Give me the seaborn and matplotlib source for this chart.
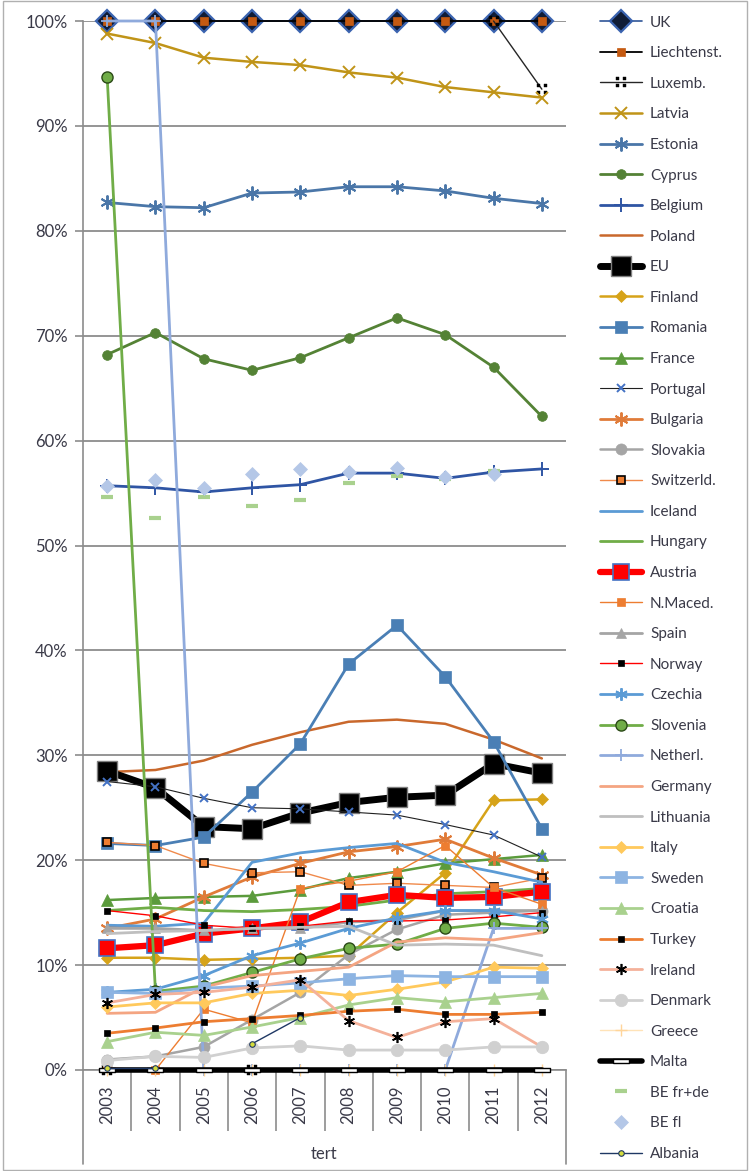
import numpy as np
import matplotlib
matplotlib.use("Agg")
import matplotlib.pyplot as plt
from matplotlib.path import Path
from matplotlib.patches import Rectangle
import seaborn as sns

nan = np.nan

# ---- data: share (%) per year, "tert" level ----
years = ["2003", "2004", "2005", "2006", "2007", "2008", "2009", "2010", "2011", "2012"]

uk = [100, 100, 100, 100, 100, 100, 100, 100, 100, 100]
liechtenstein = [100, 100, 100, 100, 100, 100, 100, 100, 100, 100]
luxembourg = [0, nan, nan, 0, nan, nan, nan, nan, 100, 93.5]
latvia = [98.8, 97.9, 96.5, 96.1, 95.8, 95.1, 94.6, 93.7, 93.2, 92.7]
estonia = [82.7, 82.3, 82.2, 83.6, 83.7, 84.2, 84.2, 83.8, 83.1, 82.6]
cyprus = [68.2, 70.3, 67.8, 66.7, 67.9, 69.8, 71.7, 70.1, 67.0, 62.3]
belgium = [55.7, 55.5, 55.1, 55.5, 55.8, 56.9, 56.9, 56.4, 57.0, 57.3]
poland = [28.4, 28.6, 29.5, 31.0, 32.2, 33.2, 33.4, 33.0, 31.5, 29.7]
eu = [28.5, 26.9, 23.2, 23.0, 24.5, 25.5, 26.0, 26.2, 29.2, 28.3]
finland = [10.7, 10.7, 10.5, 10.6, 10.7, 10.9, 15.0, 18.8, 25.7, 25.8]
romania = [21.6, 21.4, 22.2, 26.5, 31.1, 38.7, 42.4, 37.5, 31.3, 23.0]
france = [16.2, 16.4, 16.5, 16.6, 17.2, 18.3, 18.9, 19.7, 20.1, 20.5]
portugal = [27.5, 27.0, 25.9, 25.0, 24.9, 24.6, 24.3, 23.4, 22.4, 20.3]
bulgaria = [13.5, 14.4, 16.5, 18.4, 19.7, 20.8, 21.3, 22.0, 20.2, 18.6]
slovakia = [1.0, 1.3, 2.2, 4.8, 7.4, 11.0, 13.4, 14.8, 15.0, 15.2]
switzerland = [21.7, 21.4, 19.7, 18.8, 18.9, 17.6, 17.8, 17.6, 17.4, 18.3]
iceland = [13.8, 13.7, 14.0, 19.8, 20.7, 21.2, 21.6, 19.8, 18.9, 17.9]
hungary = [15.2, 15.5, 15.2, 15.1, 15.3, 15.6, 16.2, 16.8, 17.0, 17.3]
austria = [11.6, 11.9, 13.0, 13.5, 14.1, 16.0, 16.7, 16.4, 16.5, 17.0]
n_macedonia = [0.2, 0.0, 5.8, 4.5, 17.3, 18.0, 18.9, 21.4, 17.4, 15.8]
spain = [13.5, 13.5, 13.3, 13.5, 13.5, 14.1, 14.3, 15.2, 15.2, 15.2]
norway = [15.2, 14.7, 13.8, 13.5, 13.7, 14.2, 14.2, 14.3, 14.6, 15.0]
czechia = [7.4, 7.7, 9.0, 10.9, 12.1, 13.5, 14.5, 15.2, 15.2, 14.4]
slovenia = [94.7, 7.5, 8.0, 9.3, 10.6, 11.6, 12.0, 13.5, 14.0, 13.6]
netherlands = [100, 100, 0, 0, 0, 0, 0, 0, 13.5, 13.5]
germany = [5.4, 5.5, 7.9, 9.0, 9.4, 9.8, 12.2, 12.6, 12.4, 13.1]
lithuania = [13.0, 13.2, 13.3, 13.5, 13.6, 13.7, 11.9, 12.0, 11.9, 10.9]
italy = [6.0, 6.4, 6.4, 7.3, 7.6, 7.1, 7.7, 8.4, 9.8, 9.7]
sweden = [7.4, 7.3, 7.8, 8.0, 8.3, 8.7, 9.0, 8.9, 8.9, 8.9]
croatia = [2.7, 3.6, 3.3, 4.1, 5.0, 6.2, 6.9, 6.5, 6.9, 7.3]
turkey = [3.5, 4.0, 4.6, 4.9, 5.2, 5.6, 5.8, 5.3, 5.3, 5.5]
ireland = [6.4, 7.2, 7.4, 7.9, 8.6, 4.7, 3.1, 4.6, 4.9, 2.2]
denmark = [0.9, 1.3, 1.2, 2.1, 2.3, 1.9, 1.9, 1.9, 2.2, 2.2]
greece = [0, 0, 0, 0, 0, 0, 0, 0, 0, 0]
malta = [0, 0, 0, 0, 0, 0, 0, 0, 0, 0]
be_fr_de = [54.6, 52.6, 54.6, 53.8, 54.3, 56.0, 56.6, 56.3, 57.1, nan]
be_fl = [55.7, 56.2, 55.5, 56.8, 57.3, 57.0, 57.4, 56.5, 56.8, nan]
albania = [0.2, 0.2, nan, 2.5, 5.0, nan, nan, nan, nan, nan]

y_ticks = [0, 10, 20, 30, 40, 50, 60, 70, 80, 90, 100]
y_tick_labels = [f"{v}%" for v in y_ticks]
x_axis_title = "tert"

# ---- custom marker shapes ----
def _square(cx, cy, h):
    return Path([(cx - h, cy - h), (cx + h, cy - h), (cx + h, cy + h),
                 (cx - h, cy + h), (cx - h, cy - h)],
                [Path.MOVETO, Path.LINETO, Path.LINETO, Path.LINETO, Path.CLOSEPOLY])

DOTS = Path.make_compound_path(*[_square(cx, cy, 0.3) for cx, cy in
                                 [(-0.7, -0.7), (0.7, -0.7), (-0.7, 0.7), (0.7, 0.7)]])
DASH = [(-1, -0.25), (1, -0.25), (1, 0.25), (-1, 0.25), (-1, -0.25)]
STAR = (6, 2, 0)

# series name, values, style
series = [
    ("UK", uk, dict(color="#2f5597", linewidth=1.2, marker="D", markersize=11,
                    markerfacecolor="#101c36", markeredgecolor="#3b64b0", markeredgewidth=1.6)),
    ("Liechtenst.", liechtenstein, dict(color="black", linewidth=1.3, marker="s", markersize=6,
                                        markerfacecolor="#c55a11", markeredgecolor="#c55a11", markeredgewidth=0.5)),
    ("Luxemb.", luxembourg, dict(color="#262626", linewidth=1.0, marker=DOTS, markersize=7,
                                 markerfacecolor="black", markeredgecolor="black", markeredgewidth=0.3)),
    ("Latvia", latvia, dict(color="#c09418", linewidth=1.8, marker="x", markersize=9,
                            markerfacecolor="#c09418", markeredgecolor="#c09418", markeredgewidth=1.4)),
    ("Estonia", estonia, dict(color="#4a76a8", linewidth=2.0, marker=STAR, markersize=10,
                              markerfacecolor="#4a76a8", markeredgecolor="#4a76a8", markeredgewidth=1.4)),
    ("Cyprus", cyprus, dict(color="#548235", linewidth=2.0, marker="o", markersize=7,
                            markerfacecolor="#548235", markeredgecolor="#548235", markeredgewidth=0.5)),
    ("Belgium", belgium, dict(color="#2f55a4", linewidth=2.0, marker="+", markersize=10,
                              markerfacecolor="#2f55a4", markeredgecolor="#2f55a4", markeredgewidth=1.4)),
    ("Poland", poland, dict(color="#c9682c", linewidth=1.8)),
    ("EU", eu, dict(color="black", linewidth=5.0, marker="s", markersize=15,
                    markerfacecolor="black", markeredgecolor="#7f7f7f", markeredgewidth=1.0)),
    ("Finland", finland, dict(color="#d6a319", linewidth=1.8, marker="D", markersize=6,
                              markerfacecolor="#d6a319", markeredgecolor="#d6a319", markeredgewidth=0.5)),
    ("Romania", romania, dict(color="#4a7fb5", linewidth=2.0, marker="s", markersize=8,
                              markerfacecolor="#4a7fb5", markeredgecolor="#4a7fb5", markeredgewidth=0.5)),
    ("France", france, dict(color="#5b9b3c", linewidth=1.8, marker="^", markersize=8,
                            markerfacecolor="#5b9b3c", markeredgecolor="#5b9b3c", markeredgewidth=0.5)),
    ("Portugal", portugal, dict(color="#202020", linewidth=0.8, marker="x", markersize=6,
                                markerfacecolor="#4472c4", markeredgecolor="#4472c4", markeredgewidth=1.4)),
    ("Bulgaria", bulgaria, dict(color="#e07b39", linewidth=2.0, marker=STAR, markersize=10,
                                markerfacecolor="#e07b39", markeredgecolor="#e07b39", markeredgewidth=1.4)),
    ("Slovakia", slovakia, dict(color="#a5a5a5", linewidth=1.8, marker="o", markersize=8,
                                markerfacecolor="#a5a5a5", markeredgecolor="#a5a5a5", markeredgewidth=0.5)),
    ("Switzerld.", switzerland, dict(color="#f08a4b", linewidth=1.0, marker="s", markersize=6,
                                     markerfacecolor="#ed7d31", markeredgecolor="black", markeredgewidth=1.2)),
    ("Iceland", iceland, dict(color="#5b9bd5", linewidth=2.0)),
    ("Hungary", hungary, dict(color="#70ad47", linewidth=2.0)),
    ("Austria", austria, dict(color="#ff0000", linewidth=4.5, marker="s", markersize=12,
                              markerfacecolor="#ff0000", markeredgecolor="#4472c4", markeredgewidth=1.2)),
    ("N.Maced.", n_macedonia, dict(color="#ed7d31", linewidth=1.0, marker="s", markersize=6,
                                   markerfacecolor="#ed7d31", markeredgecolor="#ed7d31", markeredgewidth=0.5)),
    ("Spain", spain, dict(color="#a5a5a5", linewidth=2.0, marker="^", markersize=7,
                          markerfacecolor="#a5a5a5", markeredgecolor="#a5a5a5", markeredgewidth=0.5)),
    ("Norway", norway, dict(color="#ff0000", linewidth=1.0, marker="s", markersize=4,
                            markerfacecolor="black", markeredgecolor="black", markeredgewidth=0.5)),
    ("Czechia", czechia, dict(color="#5b9bd5", linewidth=2.0, marker=STAR, markersize=9,
                              markerfacecolor="#5b9bd5", markeredgecolor="#5b9bd5", markeredgewidth=1.4)),
    ("Slovenia", slovenia, dict(color="#70ad47", linewidth=2.0, marker="o", markersize=8,
                                markerfacecolor="#70ad47", markeredgecolor="#2b4a17", markeredgewidth=1.0)),
    ("Netherl.", netherlands, dict(color="#8faadc", linewidth=2.0, marker="+", markersize=9,
                                   markerfacecolor="#8faadc", markeredgecolor="#8faadc", markeredgewidth=1.3)),
    ("Germany", germany, dict(color="#f4a582", linewidth=2.0)),
    ("Lithuania", lithuania, dict(color="#bfbfbf", linewidth=2.0)),
    ("Italy", italy, dict(color="#ffc95c", linewidth=2.0, marker="D", markersize=6,
                          markerfacecolor="#ffc95c", markeredgecolor="#ffc95c", markeredgewidth=0.5)),
    ("Sweden", sweden, dict(color="#8db4e2", linewidth=2.0, marker="s", markersize=9,
                            markerfacecolor="#8db4e2", markeredgecolor="#8db4e2", markeredgewidth=0.5)),
    ("Croatia", croatia, dict(color="#a9d18e", linewidth=2.0, marker="^", markersize=8,
                              markerfacecolor="#a9d18e", markeredgecolor="#a9d18e", markeredgewidth=0.5)),
    ("Turkey", turkey, dict(color="#ed7d31", linewidth=2.0, marker="s", markersize=4,
                            markerfacecolor="black", markeredgecolor="black", markeredgewidth=0.5)),
    ("Ireland", ireland, dict(color="#f4b19a", linewidth=2.0, marker=STAR, markersize=8,
                              markerfacecolor="black", markeredgecolor="black", markeredgewidth=1.2)),
    ("Denmark", denmark, dict(color="#d0d0d0", linewidth=2.0, marker="o", markersize=9,
                              markerfacecolor="#d0d0d0", markeredgecolor="#d0d0d0", markeredgewidth=0.5)),
    ("Greece", greece, dict(color="#ffe3b8", linewidth=1.0, marker="+", markersize=9,
                            markerfacecolor="#ffd59a", markeredgecolor="#ffd59a", markeredgewidth=1.0)),
    ("Malta", malta, dict(color="black", linewidth=4.0, marker=DASH, markersize=11,
                          markerfacecolor="white", markeredgecolor="black", markeredgewidth=1.0)),
    ("BE fr+de", be_fr_de, dict(color="#a9d18e", linestyle="none", marker="_", markersize=9,
                                markerfacecolor="#a9d18e", markeredgecolor="#a9d18e", markeredgewidth=3.0)),
    ("BE fl", be_fl, dict(color="#b4c7e7", linestyle="none", marker="D", markersize=7,
                          markerfacecolor="#b4c7e7", markeredgecolor="#b4c7e7", markeredgewidth=0.5)),
    ("Albania", albania, dict(color="#1f3864", linewidth=1.0, marker="o", markersize=4,
                              markerfacecolor="#d4dc3c", markeredgecolor="#1f3864", markeredgewidth=0.8)),
]

sns.set_theme(style="white")
plt.rcParams["font.family"] = ["Lato", "DejaVu Sans"]

fig = plt.figure(figsize=(7.49, 11.71), dpi=100)
ax = fig.add_axes([83 / 749, 1 - 1070 / 1171, (566 - 83) / 749, (1070 - 21) / 1171])
ax.set_facecolor("white")

GRID = "#8c8c8c"
TEXT = "#3a3a48"


def draw_series(values, z, style):
    """Draw one series with seaborn, breaking the line where values are missing."""
    y = np.asarray(values, dtype=float)
    x = np.arange(len(y))
    ok = ~np.isnan(y)
    segments, start = [], None
    for i in range(len(y)):
        if ok[i] and start is None:
            start = i
        if (not ok[i] or i == len(y) - 1) and start is not None:
            end = i + 1 if ok[i] else i
            segments.append((start, end))
            start = None
    handle = None
    for a, b in segments:
        sns.lineplot(x=x[a:b], y=y[a:b], ax=ax, errorbar=None, sort=False,
                     legend=False, zorder=z, clip_on=False, **style)
        if handle is None:
            handle = ax.lines[-1]
    return handle


handles, labels = [], []
for k, (name, vals, style) in enumerate(series):
    h = draw_series(vals, 3 + k * 0.01, style)
    handles.append(h)
    labels.append(name)

# axes, grid and ticks
ax.set_xlim(-0.5, len(years) - 0.5)
ax.set_ylim(0, 100)
ax.set_yticks(y_ticks)
ax.set_yticklabels(y_tick_labels)
ax.yaxis.grid(True, color=GRID, linewidth=1.3, zorder=0)
ax.xaxis.grid(False)
ax.set_axisbelow(True)
for side in ("top", "right"):
    ax.spines[side].set_visible(False)
for side in ("left", "bottom"):
    ax.spines[side].set_color(GRID)
    ax.spines[side].set_linewidth(1.2)

ax.tick_params(axis="y", which="major", left=True, length=6, width=1.2, color=GRID,
               labelsize=12, labelcolor=TEXT, pad=5)
ax.set_xticks(np.arange(len(years)))
ax.set_xticklabels(years, rotation=90, va="top", ha="center")
ax.set_xticks(np.arange(len(years) - 1) + 0.5, minor=True)
ax.tick_params(axis="x", which="major", bottom=True, length=0, labelsize=12,
               labelcolor=TEXT, pad=11)
ax.tick_params(axis="x", which="minor", bottom=True, length=44, width=1.2, color=GRID,
               direction="out")
for edge in (-0.5, len(years) - 0.5):
    ax.axvline(edge, ymin=-0.09, ymax=0, color=GRID, linewidth=1.2, clip_on=False)

ax.set_xlabel(x_axis_title, fontsize=12, color=TEXT)
ax.xaxis.set_label_coords(0.5, -0.072)

# legend
leg = fig.legend(handles, labels, loc="upper left",
                 bbox_to_anchor=(592 / 749, 1 - 8 / 1171), bbox_transform=fig.transFigure,
                 frameon=False, fontsize=11, handlelength=2.8, handletextpad=0.5,
                 labelspacing=1.085, borderpad=0.0, numpoints=1)
for t in leg.get_texts():
    t.set_color(TEXT)

# outer chart frame
fig.add_artist(Rectangle((0.004, 0.001), 0.993, 0.998, transform=fig.transFigure,
                         fill=False, edgecolor="#b0b0b0", linewidth=1.0))

fig.savefig("out.png", dpi=100, facecolor="white")
